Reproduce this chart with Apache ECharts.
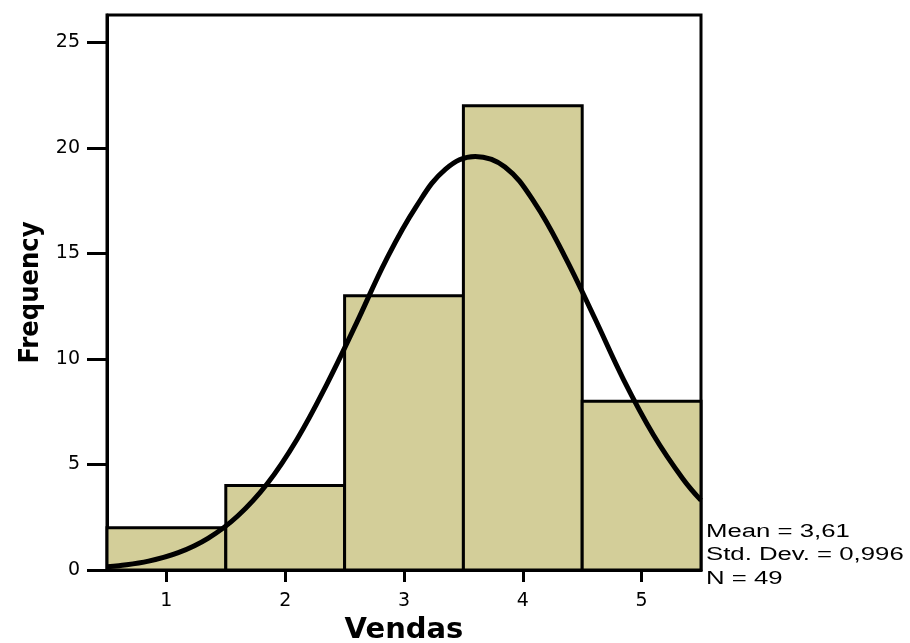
<!DOCTYPE html>
<html>
<head>
<meta charset="utf-8">
<style>
  html, body { margin: 0; padding: 0; background: #fff; }
  #chart { width: 910px; height: 643px; }
</style>
<script src="https://cdn.jsdelivr.net/npm/echarts@6/dist/echarts.min.js"></script>
</head>
<body>
<div id="chart"></div>
<script>
// histogram bins (value = category centre), counts
const categories = [1, 2, 3, 4, 5]
const counts = [2, 4, 13, 22, 8]

// normal curve
const curveX = [0.5, 0.6, 0.85, 1.1, 1.35, 1.6, 1.85, 2.1, 2.35, 2.6, 2.85, 3.1, 3.35, 3.6, 3.85, 4.1, 4.35, 4.6, 4.85, 5.1, 5.35, 5.5]
const curveY = [0.15, 0.2, 0.42, 0.82, 1.5, 2.56, 4.1, 6.2, 8.8, 11.7, 14.7, 17.2, 19.0, 19.6, 19.1, 17.4, 14.9, 12.0, 9.0, 6.4, 4.3, 3.3]

const yTicks = [0, 5, 10, 15, 20, 25]

const stats = ['Mean = 3,61', 'Std. Dev. = 0,996', 'N = 49']

const chart = echarts.init(document.getElementById('chart'))

const barData = categories.map((c, i) => [c - 0.5, c + 0.5, counts[i]])
const lineData = curveX.map((x, i) => [x, curveY[i]])

const option = {
  animation: false,
  grid: {
    left: 107,
    right: 209,
    top: 15,
    bottom: 73,
    outerBoundsMode: 'none',
    show: true,
    borderColor: '#000',
    borderWidth: 3,
    backgroundColor: 'transparent'
  },
  xAxis: {
    type: 'value',
    min: 0.5,
    max: 5.5,
    name: 'Vendas',
    nameLocation: 'middle',
    nameGap: 43,
    nameTextStyle: {
      fontFamily: 'DejaVu Sans',
      fontWeight: 'bold',
      fontSize: 29,
      color: '#000'
    },
    axisLine: { lineStyle: { color: '#000', width: 3 } },
    axisTick: {
      customValues: categories,
      length: 12,
      lineStyle: { color: '#000', width: 3 }
    },
    axisLabel: {
      customValues: categories,
      fontFamily: 'DejaVu Sans',
      fontSize: 19,
      color: '#000',
      margin: 22
    },
    splitLine: { show: false }
  },
  yAxis: {
    type: 'value',
    min: 0,
    max: 26.3,
    name: 'Frequency',
    nameLocation: 'middle',
    nameGap: 60,
    nameTextStyle: {
      fontFamily: 'DejaVu Sans Condensed',
      fontWeight: 'bold',
      fontSize: 27,
      color: '#000'
    },
    axisLine: { show: true, lineStyle: { color: '#000', width: 3 } },
    axisTick: {
      show: true,
      customValues: yTicks,
      length: 20,
      lineStyle: { color: '#000', width: 3 }
    },
    axisLabel: {
      customValues: yTicks,
      fontFamily: 'DejaVu Sans',
      fontSize: 19,
      color: '#000',
      margin: 27
    },
    splitLine: { show: false }
  },
  graphic: [{
    type: 'text',
    left: 706,
    top: 520,
    scaleX: 1.43,
    style: {
      text: stats.join('\n'),
      fontFamily: 'Liberation Sans',
      fontSize: 18,
      lineHeight: 23.5,
      fill: '#000'
    }
  }],
  series: [
    {
      type: 'custom',
      data: barData,
      encode: { x: [0, 1], y: 2 },
      z: 2,
      renderItem: function (params, api) {
        const p0 = api.coord([api.value(0), 0])
        const p1 = api.coord([api.value(1), api.value(2)])
        return {
          type: 'rect',
          shape: { x: p0[0], y: p1[1], width: p1[0] - p0[0], height: p0[1] - p1[1] },
          style: { fill: '#d3ce99', stroke: '#000', lineWidth: 3 }
        }
      }
    },
    {
      type: 'line',
      data: lineData,
      smooth: 0.4,
      symbol: 'none',
      z: 5,
      lineStyle: { color: '#000', width: 5 }
    }
  ]
}

chart.setOption(option)
</script>
</body>
</html>
